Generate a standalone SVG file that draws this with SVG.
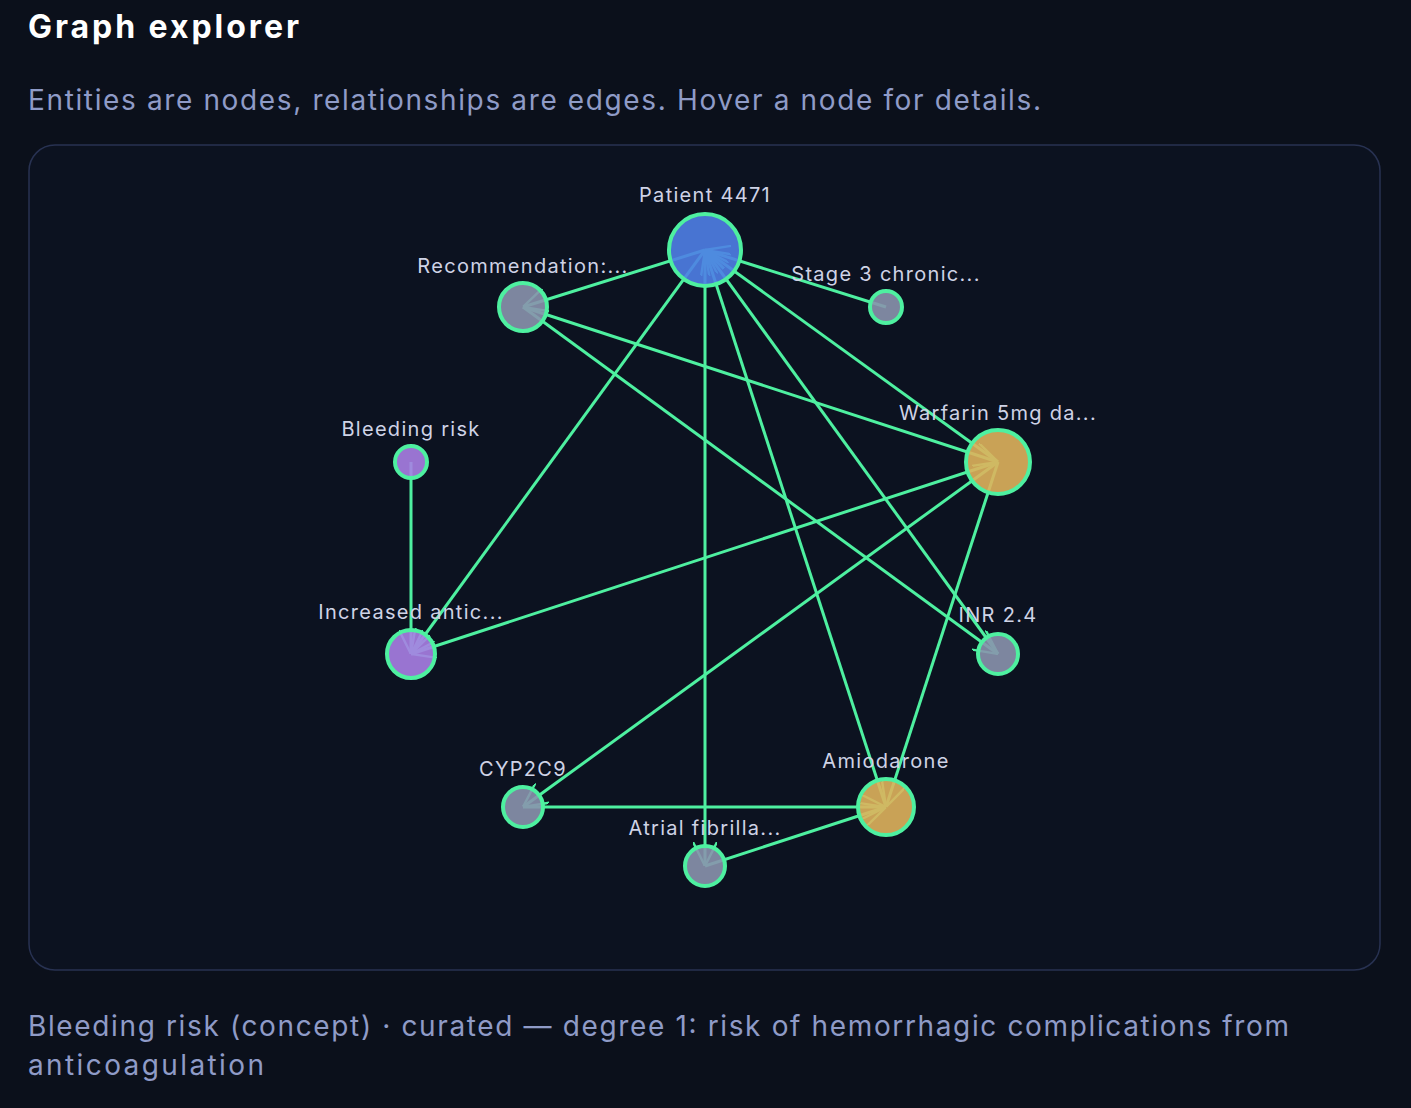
<svg xmlns="http://www.w3.org/2000/svg" width="1411" height="1108" viewBox="0 0 1411 1108">
<style>
.t{font-family:Inter,"Liberation Sans",sans-serif}
.lbl{font-family:Inter,"Liberation Sans",sans-serif;font-size:20px;fill:#cfd3e6;text-anchor:middle;letter-spacing:1.3px}
.e{stroke:#4ef0a0;stroke-width:3;fill:none;marker-end:url(#a)}
.n{stroke:#4ef0a0;stroke-width:4;fill-opacity:0.9}
</style>
<defs>
<marker id="a" viewBox="0 0 10 10" refX="10" refY="5" markerWidth="8" markerHeight="8" orient="auto"><path d="M0,0 L10,5 L0,10" fill="none" stroke="#4ef0a0" stroke-width="1"/></marker>
</defs>
<rect width="1411" height="1108" fill="#0b101b"/>
<text class="t" x="28" y="38" font-size="32" font-weight="bold" fill="#ffffff" textLength="271">Graph explorer</text>
<text class="t" x="28" y="110" font-size="28" fill="#8f9bc7" textLength="1013">Entities are nodes, relationships are edges. Hover a node for details.</text>
<rect x="29" y="145" width="1351" height="825" rx="26" fill="#0c1220" stroke="#283252" stroke-width="1.5"/>
<g id="edges">
<line class="e" x1="705" y1="250" x2="523" y2="307"/>
<line class="e" x1="886" y1="307" x2="705" y2="250"/>
<line class="e" x1="998" y1="462" x2="705" y2="250"/>
<line class="e" x1="998" y1="654" x2="705" y2="250"/>
<line class="e" x1="886" y1="807" x2="705" y2="250"/>
<line class="e" x1="705" y1="250" x2="705" y2="866"/>
<line class="e" x1="705" y1="250" x2="411" y2="654"/>
<line class="e" x1="523" y1="307" x2="998" y2="462"/>
<line class="e" x1="523" y1="307" x2="998" y2="654"/>
<line class="e" x1="411" y1="462" x2="411" y2="654"/>
<line class="e" x1="998" y1="462" x2="411" y2="654"/>
<line class="e" x1="998" y1="462" x2="523" y2="807"/>
<line class="e" x1="998" y1="462" x2="886" y2="807"/>
<line class="e" x1="523" y1="807" x2="886" y2="807"/>
<line class="e" x1="705" y1="866" x2="886" y2="807"/>
</g>
<g id="n-patient"><circle class="n" cx="705" cy="250" r="36" fill="#4f7fe6"/><text class="lbl" x="705" y="202">Patient 4471</text></g>
<g id="n-rec"><circle class="n" cx="523" cy="307" r="24" fill="#8a93ad"/><text class="lbl" x="523" y="273">Recommendation:...</text></g>
<g id="n-stage"><circle class="n" cx="886" cy="307" r="16" fill="#8a93ad"/><text class="lbl" x="886" y="281">Stage 3 chronic...</text></g>
<g id="n-warfarin"><circle class="n" cx="998" cy="462" r="32" fill="#deb35c"/><text class="lbl" x="998" y="420">Warfarin 5mg da...</text></g>
<g id="n-bleeding"><circle class="n" cx="411" cy="462" r="16" fill="#a97fe4"/><text class="lbl" x="411" y="436">Bleeding risk</text></g>
<g id="n-increased"><circle class="n" cx="411" cy="654" r="24" fill="#a97fe4"/><text class="lbl" x="411" y="619">Increased antic...</text></g>
<g id="n-inr"><circle class="n" cx="998" cy="654" r="20" fill="#8a93ad"/><text class="lbl" x="998" y="622">INR 2.4</text></g>
<g id="n-cyp"><circle class="n" cx="523" cy="807" r="20" fill="#8a93ad"/><text class="lbl" x="523" y="776">CYP2C9</text></g>
<g id="n-amio"><circle class="n" cx="886" cy="807" r="28" fill="#deb35c"/><text class="lbl" x="886" y="768">Amiodarone</text></g>
<g id="n-afib"><circle class="n" cx="705" cy="866" r="20" fill="#8a93ad"/><text class="lbl" x="705" y="835">Atrial fibrilla...</text></g>
<text class="t" x="28" y="1036" font-size="28" fill="#8f9bc7" textLength="1261">Bleeding risk (concept) · curated — degree 1: risk of hemorrhagic complications from</text>
<text class="t" x="28" y="1075" font-size="28" fill="#8f9bc7" textLength="236">anticoagulation</text>
</svg>
